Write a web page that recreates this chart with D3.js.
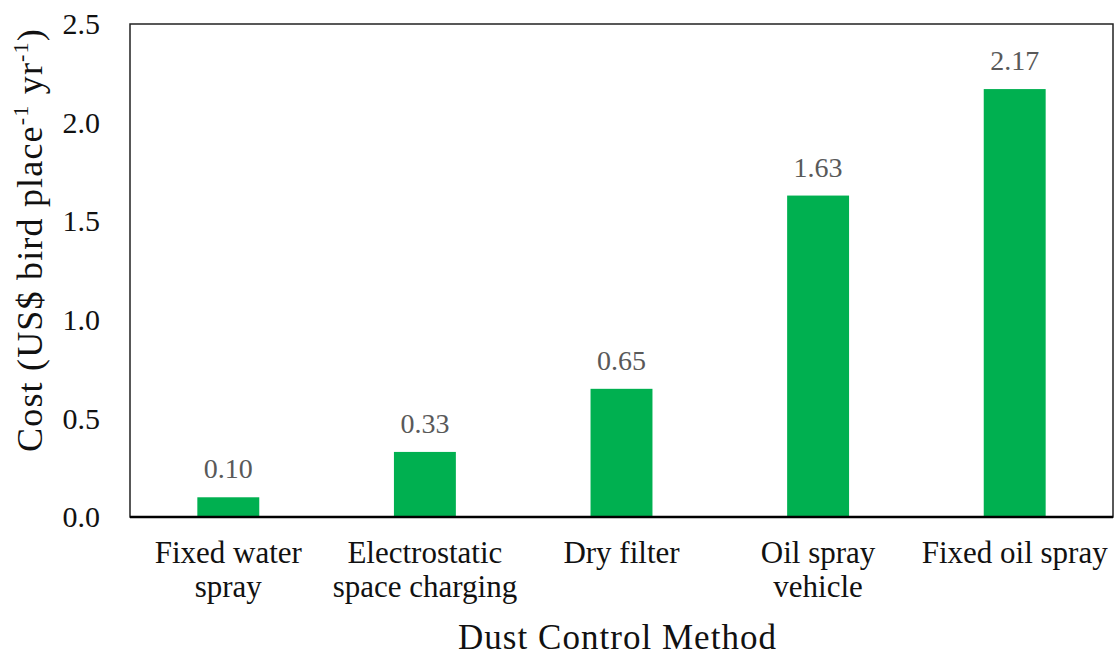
<!DOCTYPE html>
<html><head><meta charset="utf-8">
<script src="https://cdn.jsdelivr.net/npm/d3@7"></script>
<style>body{margin:0;background:#fff}svg{display:block}</style>
</head><body>
<svg id="c" width="1114" height="656"></svg>
<script>
const categories = ["Fixed water|spray","Electrostatic|space charging","Dry filter","Oil spray|vehicle","Fixed oil spray"];
const values = [0.10, 0.33, 0.65, 1.63, 2.17];
const valueLabels = ["0.10","0.33","0.65","1.63","2.17"];
const yTicks = [0, 0.5, 1.0, 1.5, 2.0, 2.5];

const svg = d3.select("#c");
const m = {l:130, r:1113, t:24, b:517};
const x = d3.scaleBand().domain(categories).range([m.l, m.r]).paddingInner(0.685).paddingOuter(0.3425);
const y = d3.scaleLinear().domain([0, 2.5]).range([m.b, m.t]);
const font = "'Liberation Serif','Times New Roman',serif";

function fit(sel, target){
  const n = sel.text().length;
  const len = sel.node().getComputedTextLength();
  sel.attr("letter-spacing", ((target - len) / n).toFixed(2));
}

svg.selectAll("rect.bar").data(values).join("rect")
  .attr("x", (d,i)=>x(categories[i])).attr("width", x.bandwidth())
  .attr("y", d=>y(d)).attr("height", d=>y(0)-y(d)).attr("fill", "#00b050");

svg.selectAll("text.val").data(values).join("text")
  .attr("x", (d,i)=>x(categories[i])+x.bandwidth()/2).attr("y", d=>y(d)-19)
  .attr("text-anchor","middle").attr("font-family",font).attr("font-size",28).attr("fill","#595959")
  .text((d,i)=>valueLabels[i]);

// frame
svg.append("rect").attr("x",m.l).attr("y",m.t).attr("width",m.r-m.l).attr("height",m.b-m.t)
  .attr("fill","none").attr("stroke","#222").attr("stroke-width",1.5);
svg.append("line").attr("x1",m.l).attr("x2",m.r).attr("y1",m.b).attr("y2",m.b).attr("stroke","#000").attr("stroke-width",2.5);

const ya = d3.axisLeft(y).tickValues(yTicks).tickFormat(d3.format(".1f")).tickSize(0).tickPadding(30);
const g = svg.append("g").attr("transform",`translate(${m.l},0)`).call(ya);
g.select(".domain").remove();
g.selectAll("text").attr("font-family",font).attr("font-size",30).attr("fill","#111");

const xa = d3.axisBottom(x).tickSize(0).tickFormat("");
const gx = svg.append("g").attr("transform",`translate(0,${m.b})`).call(xa);
gx.select(".domain").remove();
gx.selectAll(".tick").each(function(d){
  const lines = d.split("|");
  const t = d3.select(this).append("text").attr("text-anchor","middle").attr("font-family",font)
    .attr("font-size",31).attr("fill","#111").attr("y",46);
  lines.forEach((l,i)=>t.append("tspan").attr("x",0).attr("dy", i===0?0:34).text(l));
});

const xt = svg.append("text").attr("x",(m.l+m.r)/2-4).attr("y",649).attr("text-anchor","middle")
  .attr("font-family",font).attr("font-size",35).attr("fill","#111").text("Dust Control Method");
fit(xt, 319);

const yt = svg.append("text").attr("transform",`translate(42,240) rotate(-90)`)
  .attr("text-anchor","middle").attr("font-family",font).attr("font-size",36).attr("fill","#111");
yt.append("tspan").text("Cost (US$ bird place");
yt.append("tspan").attr("dy",-14).attr("font-size",22).text("-1");
yt.append("tspan").attr("dy",14).text(" yr");
yt.append("tspan").attr("dy",-14).attr("font-size",22).text("-1");
yt.append("tspan").attr("dy",14).text(")");
fit(yt, 424);
</script>
</body></html>
